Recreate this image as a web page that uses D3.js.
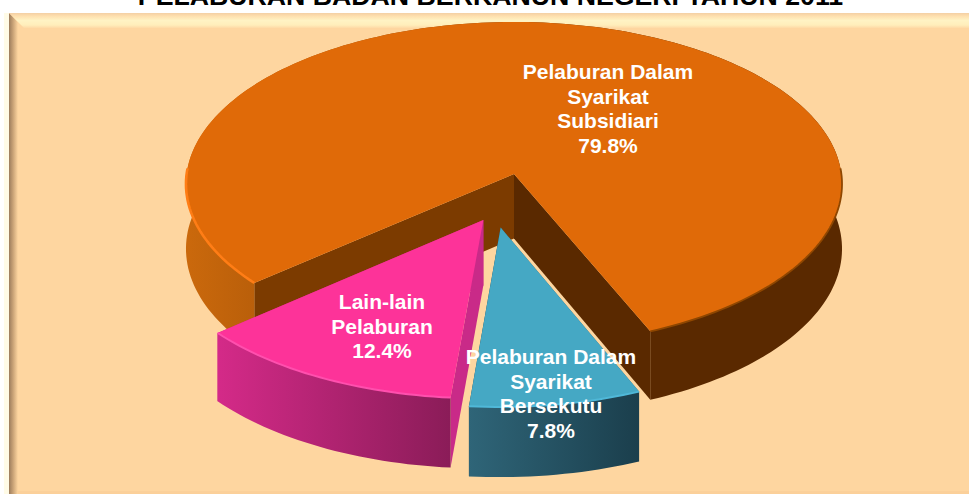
<!DOCTYPE html>
<html><head><meta charset="utf-8">
<script src="https://cdn.jsdelivr.net/npm/d3@7"></script>
<style>html,body{margin:0;padding:0;background:#fff}svg{display:block}text{font-family:"Liberation Sans",Arial,sans-serif}</style>
</head><body><div id="chart"></div>
<script>
const titleText = "PELABURAN BADAN BERKANUN NEGERI TAHUN 2011";
const categories = ["Pelaburan Dalam Syarikat Subsidiari", "Pelaburan Dalam Syarikat Bersekutu", "Lain-lain Pelaburan"];
const shares = [79.8, 7.8, 12.4];
const labelLines = [["Pelaburan Dalam","Syarikat","Subsidiari"],["Pelaburan Dalam","Syarikat","Bersekutu"],["Lain-lain","Pelaburan"]];

const W = 969, H = 494;
const svg = d3.select("#chart").append("svg").attr("width", W).attr("height", H);
const defs = svg.append("defs");

// layout
const cx = 514, cy = 174, A = 327.4, B = 161.4, k = 0.0617, depth = 64.5;
const startDeg = 229.6;
const explode = [[0,0],[-0.04,0.325],[-0.092,0.28]];
const topColor = ["#e06a08","#45a8c4","#fd3399"];
const wallStops = [["#cb690c","#5a2900"],["#2f6578","#1b3f4d"],["#d42a88","#8a1c58"]];
const wallRange = [[184,640],[469,637],[218,452]];
const innerColor = [["#7c3b00","#5a2900"],["#2f6578","#1b3f4d"],["#c92a88","#c92a88"]];
const labelPos = [[608,79],[551,364],[382,309]];
const lineStep = 24.6;
// rim highlights: degree range relative to the slice arc, colour, width
const rimParts = [
  [[null,272,"#ff7d14",2.6],[448,null,"#8f4604",1.8]],
  [[null,null,"#4fb8d8",2]],
  [[null,null,"#ff4fae",2]]
];

function project(u, v, h) {
  const w = 1 - k * v;
  return [cx + A * u / w, cy + B * v / w + (h ? depth / w : 0)];
}
const pie = d3.pie().sort(null).value(d => d)
  .startAngle(startDeg * Math.PI / 180)
  .endAngle((startDeg + 360) * Math.PI / 180);
const arcs = pie(shares);
const line = d3.line();

function rim(a, off, h) {
  const n = Math.max(8, Math.ceil((a.endAngle - a.startAngle) * 40));
  return d3.range(n + 1).map(i => {
    const t = a.startAngle + (a.endAngle - a.startAngle) * i / n;
    return project(Math.sin(t) + off[0], -Math.cos(t) + off[1], h);
  });
}

// frame
const bg = "#fed6a0";
defs.append("filter").attr("id","blur1").append("feGaussianBlur").attr("stdDeviation",0.7);
function grad(id, x1, y1, x2, y2, stops) {
  const g = defs.append("linearGradient").attr("id", id).attr("gradientUnits","userSpaceOnUse")
    .attr("x1",x1).attr("y1",y1).attr("x2",x2).attr("y2",y2);
  stops.forEach(s => g.append("stop").attr("offset",s[0]).attr("stop-color",s[1]));
}
grad("fTop",0,13,0,28,[[0,"#f3cfa4"],[0.2,"#fedfae"],[0.5,"#fff3c4"],[0.8,"#ffeebb"],[1,"#fedaa6"]]);
grad("fLeft",9,0,18,0,[[0,"#9c7c5c"],[0.45,"#c9a377"],[1,bg]]);
svg.append("rect").attr("x",4).attr("y",13).attr("width",W-4).attr("height",H-13).attr("fill","#fffbe6");
svg.append("rect").attr("x",9).attr("y",13).attr("width",W-9).attr("height",H-13).attr("fill",bg);
svg.append("path").attr("d",line([[9,13],[24,28],[18,34],[18,H],[9,H]])).attr("fill","url(#fLeft)");
svg.append("path").attr("d",line([[9,13],[W,13],[W,28],[24,28]])).attr("fill","url(#fTop)");
svg.append("rect").attr("x",18).attr("y",H-3).attr("width",W-18).attr("height",3).attr("fill","#fbd09a");

svg.append("text").attr("x",490.5).attr("y",5).attr("text-anchor","middle")
  .attr("font-size",26.7).attr("font-weight","bold").attr("fill","#000").text(titleText);

// slices: inner faces first, then the outer wall, then the top
const g = svg.append("g");
arcs.forEach((a, i) => {
  const off = explode[i];
  grad("wall"+i, wallRange[i][0], 0, wallRange[i][1], 0, [[0,wallStops[i][0]],[1,wallStops[i][1]]]);
  const top = rim(a, off, false), bot = rim(a, off, true);
  const apexT = project(off[0], off[1], false), apexB = project(off[0], off[1], true);
  const s = g.append("g").attr("class","slice");
  [[top[0], bot[0], innerColor[i][0]], [top[top.length-1], bot[bot.length-1], innerColor[i][1]]].forEach(f => {
    s.append("path").attr("d", line([apexT, f[0], f[1], apexB]) + "Z").attr("fill", f[2]);
  });
  s.append("path").attr("d", line(top.concat(bot.slice().reverse())) + "Z").attr("fill","url(#wall"+i+")");
  s.append("path").attr("d", line([apexT].concat(top)) + "Z").attr("fill", topColor[i]);
  rimParts[i].forEach(p => {
    const sub = {
      startAngle: p[0] === null ? a.startAngle : p[0] * Math.PI / 180,
      endAngle: p[1] === null ? a.endAngle : p[1] * Math.PI / 180
    };
    s.append("path").attr("d", line(rim(sub, off, false))).attr("fill","none").attr("stroke",p[2])
      .attr("stroke-width",p[3]).attr("filter","url(#blur1)");
  });
});

// labels
categories.forEach((c, i) => {
  const pct = shares[i].toFixed(1) + "%";
  const t = svg.append("text").attr("text-anchor","middle").attr("fill","#fff")
    .attr("font-size",21).attr("font-weight","bold");
  labelLines[i].concat([pct]).forEach((l, j) => {
    t.append("tspan").attr("x",labelPos[i][0]).attr("y",labelPos[i][1] + j * lineStep).text(l);
  });
});
</script></body></html>
